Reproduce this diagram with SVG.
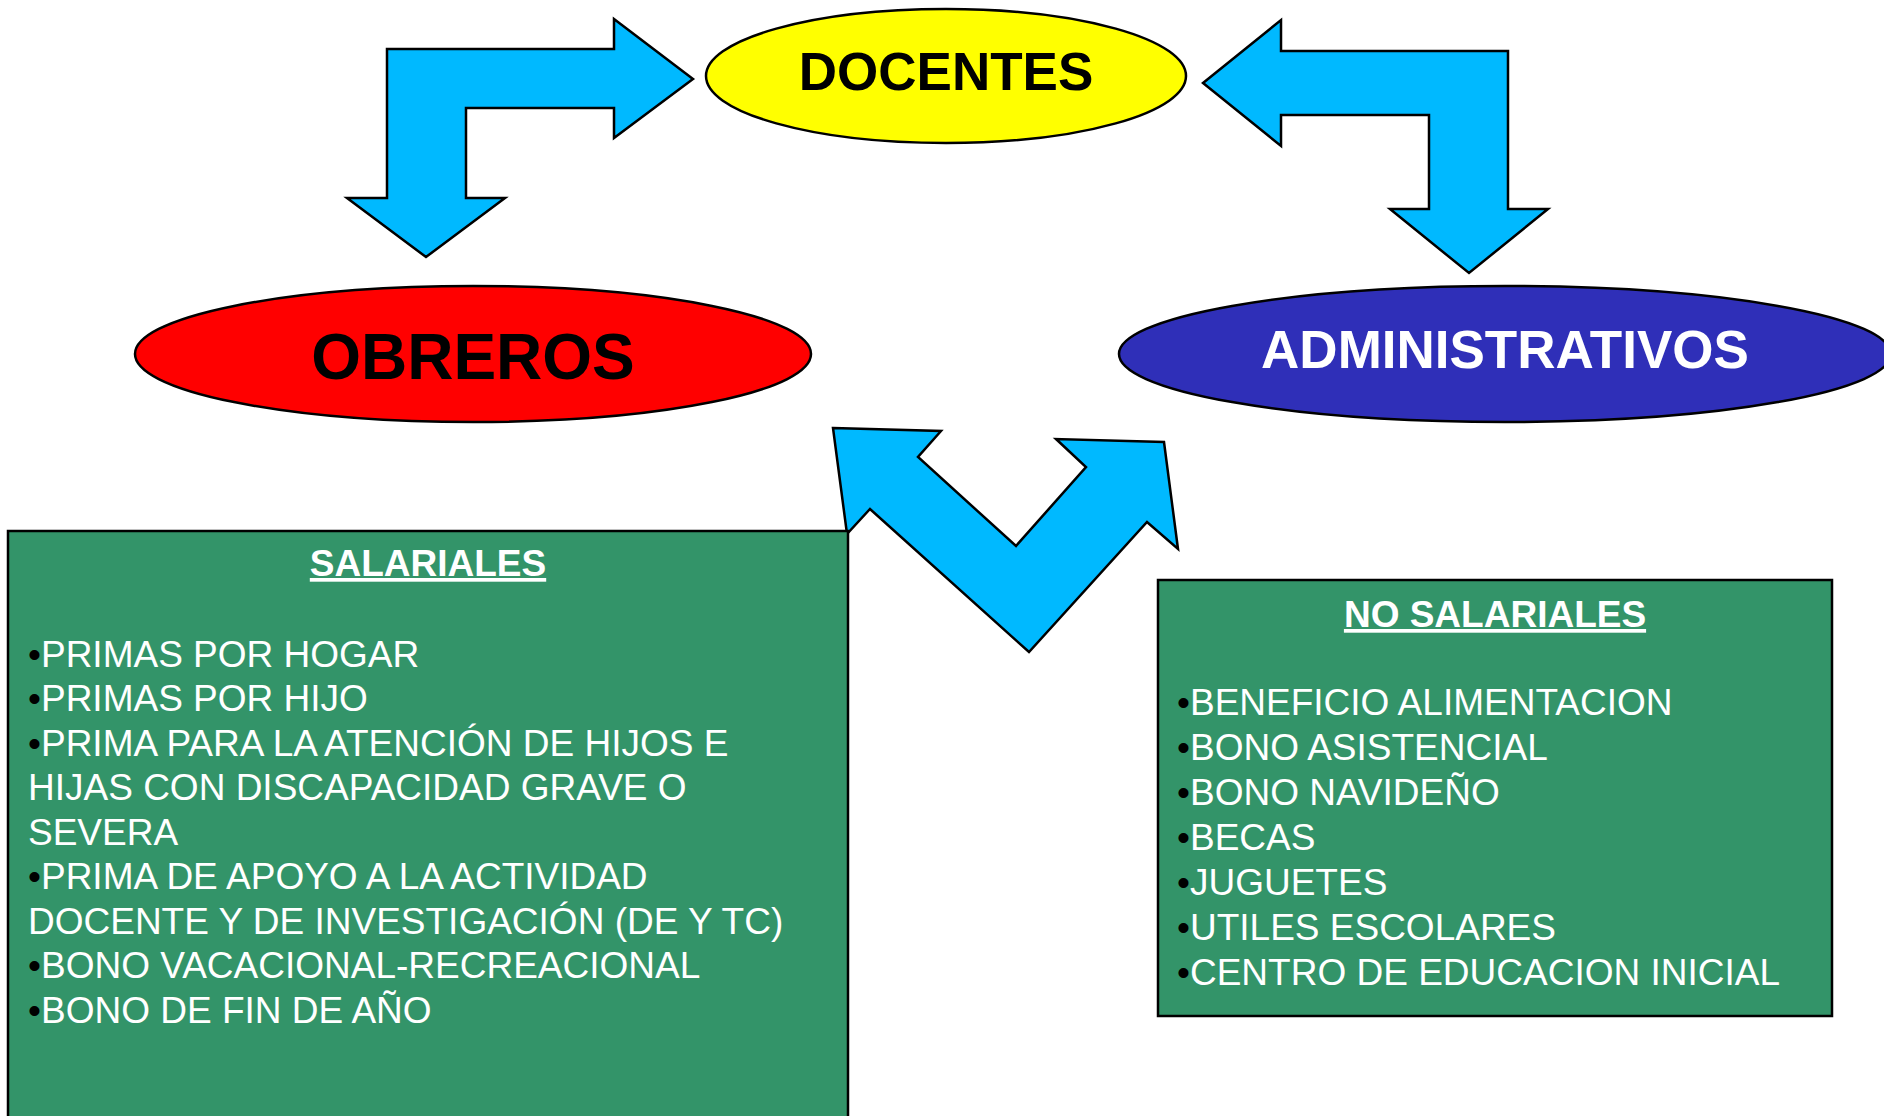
<svg xmlns="http://www.w3.org/2000/svg" width="1884" height="1116" viewBox="0 0 1884 1116">
<style>
.arrow{fill:#00B9FF;stroke:#000;stroke-width:2.5;stroke-linejoin:miter}
.ell{stroke:#000;stroke-width:2.5}
.box{fill:#339469;stroke:#000;stroke-width:2.5}
.title{font-family:"Liberation Sans",Arial,sans-serif;font-weight:bold;text-anchor:middle}
.head{font-family:"Liberation Sans",Arial,sans-serif;font-weight:bold;font-size:37px;fill:#fff;text-anchor:middle;text-decoration:underline}
.item{font-family:"Liberation Sans",Arial,sans-serif;font-size:37px;fill:#fff}
.b{fill:#000}
</style>
<rect width="1884" height="1116" fill="#fff"/>
<g id="connectors">
<polygon class="arrow" points="387,49 614,49 614,19 693,79 614,138 614,108 466,108 466,198 505,198 426,257 347,198 387,198"/>
<polygon class="arrow" points="1203,83 1281,20 1281,51 1508,51 1508,209 1548,209 1469,273 1390,209 1429,209 1429,115 1281,115 1281,146"/>
<polygon class="arrow" points="833,428 941,431 918,457 1016,546 1086,467 1056,439 1164,442 1178,549 1147,522 1029,652 870,509 847,534"/>
</g>
<g id="docentes">
<ellipse class="ell" cx="946" cy="76" rx="240" ry="67" fill="#FFFF00"/>
<text class="title" x="946" y="90" font-size="53" fill="#000">DOCENTES</text>
</g>
<g id="obreros">
<ellipse class="ell" cx="473" cy="354" rx="338" ry="68" fill="#FF0000"/>
<text class="title" x="473" y="379" font-size="64" fill="#000">OBREROS</text>
</g>
<g id="administrativos">
<ellipse class="ell" cx="1505" cy="354" rx="386" ry="68" fill="#2F2FB8"/>
<text class="title" x="1505" y="368" font-size="53" fill="#fff">ADMINISTRATIVOS</text>
</g>
<g id="salariales">
<rect class="box" x="8" y="531" width="840" height="600"/>
<text class="head" x="428" y="576">SALARIALES</text>
<text class="item" x="28" y="667"><tspan class="b">•</tspan>PRIMAS POR HOGAR</text>
<text class="item" x="28" y="711"><tspan class="b">•</tspan>PRIMAS POR HIJO</text>
<text class="item" x="28" y="756"><tspan class="b">•</tspan>PRIMA PARA LA ATENCIÓN DE HIJOS E</text>
<text class="item" x="28" y="800">HIJAS CON DISCAPACIDAD GRAVE O</text>
<text class="item" x="28" y="845">SEVERA</text>
<text class="item" x="28" y="889"><tspan class="b">•</tspan>PRIMA DE APOYO A LA ACTIVIDAD</text>
<text class="item" x="28" y="934">DOCENTE Y DE INVESTIGACIÓN (DE Y TC)</text>
<text class="item" x="28" y="978"><tspan class="b">•</tspan>BONO VACACIONAL-RECREACIONAL</text>
<text class="item" x="28" y="1023"><tspan class="b">•</tspan>BONO DE FIN DE AÑO</text>
</g>
<g id="no-salariales">
<rect class="box" x="1158" y="580" width="674" height="436"/>
<text class="head" x="1495" y="627">NO SALARIALES</text>
<text class="item" x="1177" y="715"><tspan class="b">•</tspan>BENEFICIO ALIMENTACION</text>
<text class="item" x="1177" y="760"><tspan class="b">•</tspan>BONO ASISTENCIAL</text>
<text class="item" x="1177" y="805"><tspan class="b">•</tspan>BONO NAVIDEÑO</text>
<text class="item" x="1177" y="850"><tspan class="b">•</tspan>BECAS</text>
<text class="item" x="1177" y="895"><tspan class="b">•</tspan>JUGUETES</text>
<text class="item" x="1177" y="940"><tspan class="b">•</tspan>UTILES ESCOLARES</text>
<text class="item" x="1177" y="985"><tspan class="b">•</tspan>CENTRO DE EDUCACION INICIAL</text>
</g>
</svg>
